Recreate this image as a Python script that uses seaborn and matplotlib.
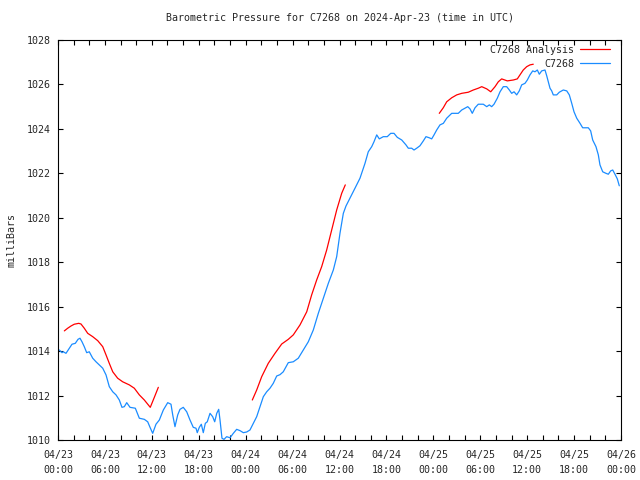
import matplotlib
matplotlib.use("Agg")
import matplotlib.pyplot as plt
import seaborn as sns
import pandas as pd
from matplotlib.ticker import MultipleLocator
from matplotlib.lines import Line2D

# hours since 2024-04-23 00:00 UTC
obs_hours = [0.17, 0.51, 0.68, 1.02, 1.45, 1.79, 2.21, 2.56, 2.81, 3.07, 3.36, 3.67, 4.00, 4.44, 4.86, 5.28,
             5.72, 6.14, 6.56, 7.00, 7.42, 7.84, 8.18, 8.48, 8.79, 9.21, 9.89, 10.40, 11.04, 11.47, 11.77,
             12.11, 12.53, 12.96, 13.47, 14.03, 14.45, 14.67, 14.96, 15.31, 15.60, 16.02, 16.46, 16.88,
             17.30, 17.65, 17.81, 18.07, 18.33, 18.58, 18.84, 19.09, 19.44, 19.78, 20.04, 20.30, 20.55,
             20.72, 20.97, 21.23, 21.57, 22.00, 22.42, 22.85, 23.28, 23.70, 24.13, 24.55, 24.98, 25.41,
             25.83, 26.26, 26.69, 27.11, 27.53, 27.97, 28.39, 28.81, 29.45, 30.09, 30.73, 31.37, 32.01,
             32.65, 33.29, 33.93, 34.57, 35.21, 35.64, 36.06, 36.49, 36.83, 37.34, 37.98, 38.62, 38.97,
             39.26, 39.68, 40.12, 40.41, 40.76, 41.09, 41.60, 42.11, 42.55, 42.97, 43.39, 43.96, 44.50,
             44.80, 45.23, 45.53, 45.87, 46.29, 46.72, 47.06, 47.48, 47.79, 48.09, 48.43, 48.85, 49.28,
             49.71, 50.35, 51.19, 51.63, 52.05, 52.40, 52.69, 52.98, 53.33, 53.75, 54.39, 54.83, 55.16,
             55.46, 55.76, 56.18, 56.53, 56.95, 57.38, 57.72, 58.02, 58.32, 58.66, 58.99, 59.30, 59.72,
             60.02, 60.36, 60.71, 61.00, 61.30, 61.55, 61.86, 62.28, 62.50, 62.70, 62.92, 63.14, 63.34,
             63.78, 64.11, 64.62, 65.06, 65.39, 65.70, 65.99, 66.34, 66.76, 67.10, 67.82, 68.12, 68.38,
             68.80, 69.10, 69.31, 69.66, 70.08, 70.38, 70.68, 70.94, 71.23, 71.53, 71.78]
obs_mb = [1014.05, 1013.93, 1013.97, 1013.90, 1014.13, 1014.31, 1014.35, 1014.53, 1014.58, 1014.42, 1014.20,
          1013.93, 1013.97, 1013.68, 1013.52, 1013.38, 1013.23, 1012.93, 1012.40, 1012.17, 1012.03, 1011.80,
          1011.47, 1011.50, 1011.68, 1011.47, 1011.43, 1010.98, 1010.93, 1010.82, 1010.57, 1010.30, 1010.71,
          1010.90, 1011.35, 1011.68, 1011.61, 1011.13, 1010.60, 1011.13, 1011.38, 1011.47, 1011.27, 1010.90,
          1010.57, 1010.53, 1010.33, 1010.57, 1010.71, 1010.33, 1010.75, 1010.82, 1011.20, 1011.05, 1010.82,
          1011.20, 1011.38, 1010.90, 1010.08, 1010.03, 1010.15, 1010.10, 1010.30, 1010.48, 1010.42, 1010.33,
          1010.36, 1010.45, 1010.75, 1011.05, 1011.50, 1011.95, 1012.17, 1012.33, 1012.55, 1012.88, 1012.94,
          1013.07, 1013.48, 1013.52, 1013.68, 1014.05, 1014.42, 1014.95, 1015.70, 1016.38, 1017.05, 1017.65,
          1018.25, 1019.30, 1020.20, 1020.53, 1020.88, 1021.33, 1021.78, 1022.15, 1022.45, 1022.97, 1023.20,
          1023.42, 1023.73, 1023.55, 1023.65, 1023.65, 1023.80, 1023.80, 1023.62, 1023.50, 1023.28, 1023.13,
          1023.13, 1023.05, 1023.13, 1023.24, 1023.46, 1023.65, 1023.60, 1023.55, 1023.73, 1023.95, 1024.18,
          1024.25, 1024.48, 1024.70, 1024.70, 1024.85, 1024.93, 1025.00, 1024.90, 1024.70, 1024.95, 1025.11,
          1025.11, 1025.00, 1025.08, 1025.00, 1025.11, 1025.38, 1025.67, 1025.90, 1025.90, 1025.75, 1025.60,
          1025.67, 1025.53, 1025.71, 1025.98, 1026.05, 1026.20, 1026.43, 1026.61, 1026.57, 1026.65, 1026.46,
          1026.61, 1026.65, 1026.39, 1026.12, 1025.83, 1025.71, 1025.53, 1025.53, 1025.65, 1025.75, 1025.71,
          1025.53, 1025.15, 1024.77, 1024.48, 1024.25, 1024.05, 1024.05, 1023.91, 1023.50, 1023.20, 1022.83,
          1022.38, 1022.07, 1022.00, 1021.96, 1022.11, 1022.15, 1021.96, 1021.75, 1021.44]

ana1_hours = [0.81, 1.24, 1.66, 2.08, 2.65, 2.94, 3.36, 3.80, 4.44, 5.08, 5.72, 6.14, 6.56, 7.00, 7.63, 8.27,
              9.12, 9.76, 10.40, 11.04, 11.80, 12.32, 12.83]
ana1_mb = [1014.91, 1015.03, 1015.13, 1015.21, 1015.25, 1015.22, 1015.03, 1014.80, 1014.65, 1014.47, 1014.20,
           1013.83, 1013.45, 1013.07, 1012.78, 1012.62, 1012.48, 1012.33, 1012.03, 1011.80, 1011.47, 1011.92,
           1012.37]
ana2_hours = [24.85, 25.41, 26.05, 26.89, 27.75, 28.61, 29.45, 30.09, 30.95, 31.81, 32.44, 33.08, 33.72,
              34.36, 35.00, 35.64, 36.28, 36.74]
ana2_mb = [1011.80, 1012.25, 1012.85, 1013.45, 1013.90, 1014.32, 1014.53, 1014.73, 1015.18, 1015.77, 1016.53,
           1017.20, 1017.80, 1018.55, 1019.45, 1020.35, 1021.10, 1021.48]
ana3_hours = [48.76, 49.27, 49.71, 50.35, 50.99, 51.63, 52.47, 53.11, 53.75, 54.19, 54.83, 55.34, 55.89,
              56.31, 56.74, 57.46, 58.23, 58.74, 59.08, 59.50, 59.94, 60.36, 60.78]
ana3_mb = [1024.70, 1024.95, 1025.22, 1025.40, 1025.53, 1025.60, 1025.65, 1025.75, 1025.83, 1025.90, 1025.80,
           1025.67, 1025.90, 1026.12, 1026.25, 1026.16, 1026.20, 1026.25, 1026.43, 1026.65, 1026.80, 1026.88,
           1026.91]

tick_hours = [0, 6, 12, 18, 24, 30, 36, 42, 48, 54, 60, 66, 72]
tick_labels = ["04/23\n00:00", "04/23\n06:00", "04/23\n12:00", "04/23\n18:00",
               "04/24\n00:00", "04/24\n06:00", "04/24\n12:00", "04/24\n18:00",
               "04/25\n00:00", "04/25\n06:00", "04/25\n12:00", "04/25\n18:00", "04/26\n00:00"]
y_ticks = [1010, 1012, 1014, 1016, 1018, 1020, 1022, 1024, 1026, 1028]
series_names = ["C7268 Analysis", "C7268"]

sns.set_style("ticks")
plt.rcParams['font.family'] = ['DejaVu Sans Mono']
plt.rcParams['font.size'] = 7.2

RED = "#ff0000"
BLUE = "#1a8cff"

fig = plt.figure(figsize=(6.4, 4.8), dpi=100)
ax = fig.add_axes([58/640, 40/480, 563/640, 400/480])

ana_frames = []
for seg, (h, p) in enumerate([(ana1_hours, ana1_mb), (ana2_hours, ana2_mb), (ana3_hours, ana3_mb)]):
    ana_frames.append(pd.DataFrame({"hour": h, "mb": p, "seg": seg}))
ana_df = pd.concat(ana_frames, ignore_index=True)
obs_df = pd.DataFrame({"hour": obs_hours, "mb": obs_mb, "seg": 0})

sns.lineplot(data=ana_df, x="hour", y="mb", units="seg", estimator=None, color=RED,
             linewidth=0.9, ax=ax, sort=False, legend=False)
sns.lineplot(data=obs_df, x="hour", y="mb", units="seg", estimator=None, color=BLUE,
             linewidth=0.9, ax=ax, sort=False, legend=False)

ax.set_xlim(0, 72)
ax.set_ylim(1010, 1028)
ax.set_xticks(tick_hours)
ax.set_xticklabels(tick_labels, linespacing=1.65)
ax.xaxis.set_minor_locator(MultipleLocator(2))
ax.set_yticks(y_ticks)
ax.tick_params(which="both", direction="in", top=True, right=True, length=3.5, width=0.8, color="black")
ax.tick_params(axis="x", pad=7)
ax.tick_params(axis="y", pad=5)
for s in ax.spines.values():
    s.set_visible(True)
    s.set_color("black")
    s.set_linewidth(0.8)

ax.set_xlabel("")
ax.set_ylabel("milliBars", fontsize=7.2)
ax.yaxis.set_label_coords(-0.073, 0.5)
ax.set_title("Barometric Pressure for C7268 on 2024-Apr-23 (time in UTC)", fontsize=7.2, pad=14)

handles = [Line2D([], [], color=RED, linewidth=0.9), Line2D([], [], color=BLUE, linewidth=0.9)]
ax.legend(handles, series_names, loc="upper right", frameon=False, markerfirst=False,
          handlelength=3.0, fontsize=7.2, borderaxespad=0, borderpad=0,
          bbox_to_anchor=(0.9805, 0.988), labelspacing=0.4, handletextpad=0.6)

fig.savefig("out.png", dpi=100)
